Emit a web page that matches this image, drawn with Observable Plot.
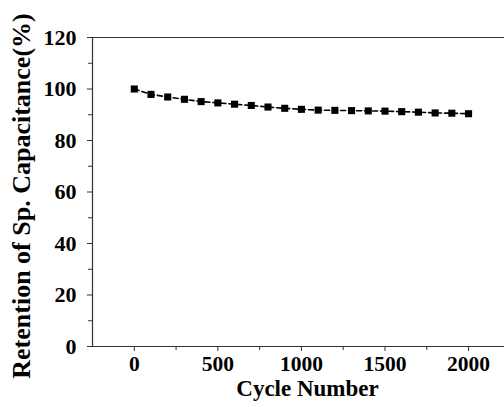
<!DOCTYPE html>
<html>
<head>
<meta charset="utf-8">
<script src="https://cdn.jsdelivr.net/npm/d3@7"></script>
<script src="https://cdn.jsdelivr.net/npm/@observablehq/plot@0.6"></script>
<style>
  html, body { margin: 0; padding: 0; background: #fff; overflow: hidden; }
  #chart svg { display: block; }
</style>
</head>
<body>
<div id="chart"></div>
<script>
const cycles = [0,100,200,300,400,500,600,700,800,900,1000,1100,1200,1300,1400,1500,1600,1700,1800,1900,2000];
const retention = [100,97.9,96.9,96.0,95.1,94.6,94.1,93.6,93.0,92.5,92.1,91.8,91.7,91.6,91.5,91.4,91.2,91.0,90.7,90.6,90.4];
const xTicks = [0,500,1000,1500,2000];
const xMinor = [250,750,1250,1750];
const yTicks = [0,20,40,60,80,100,120];
const yMinor = [10,30,50,70,90,110];
const xTitle = "Cycle Number";
const yTitle = "Retention of Sp. Capacitance(%)";

const data = cycles.map((c, i) => ({cycle: c, value: retention[i]}));
const font = "'Liberation Serif', 'Times New Roman', serif";
const axisColor = "#333";
const blank = () => "";
const xMin = -250;

const chart = Plot.plot({
  width: 504,
  height: 407,
  marginLeft: 92,
  marginRight: 0,
  marginTop: 37,
  marginBottom: 61,
  style: {fontFamily: font, background: "#fff"},
  x: {domain: [xMin, 2215]},
  y: {domain: [0, 120]},
  marks: [
    Plot.ruleY([0], {stroke: axisColor, strokeWidth: 1.2}),
    Plot.ruleY([120], {stroke: axisColor, strokeWidth: 1.2}),
    Plot.ruleX([xMin], {stroke: axisColor, strokeWidth: 1.2}),
    Plot.axisY(yTicks, {tickSize: 5, tickFormat: blank, stroke: axisColor, label: null}),
    Plot.axisY(yMinor, {tickSize: 4, tickFormat: blank, stroke: axisColor, label: null}),
    Plot.axisX(xTicks, {tickSize: 5, tickFormat: blank, stroke: axisColor, label: null}),
    Plot.axisX(xMinor, {tickSize: 4, tickFormat: blank, stroke: axisColor, label: null}),
    Plot.text(yTicks, {x: xMin, y: d => d, text: d => String(d), textAnchor: "end", dx: -16, fontSize: 22, fontWeight: "bold", fill: "#000"}),
    Plot.text(xTicks, {x: d => d, y: 0, text: d => String(d), dy: 17.5, fontSize: 21.5, fontWeight: "bold", fill: "#000"}),
    Plot.line(data, {x: "cycle", y: "value", stroke: "#000", strokeWidth: 1.6, strokeDasharray: "5,3"}),
    Plot.dot(data, {x: "cycle", y: "value", symbol: "square", r: 4, fill: "#000", stroke: "none"}),
    Plot.text([xTitle], {frameAnchor: "bottom", text: d => d, dx: 9, dy: 49.5, fontSize: 23, fontWeight: "bold", fill: "#000"}),
    Plot.text([yTitle], {frameAnchor: "left", text: d => d, rotate: -90, textAnchor: "middle", dx: -71, dy: 4, fontSize: 26, fontWeight: "bold", fill: "#000"})
  ]
});
document.getElementById("chart").appendChild(chart);
</script>
</body>
</html>
